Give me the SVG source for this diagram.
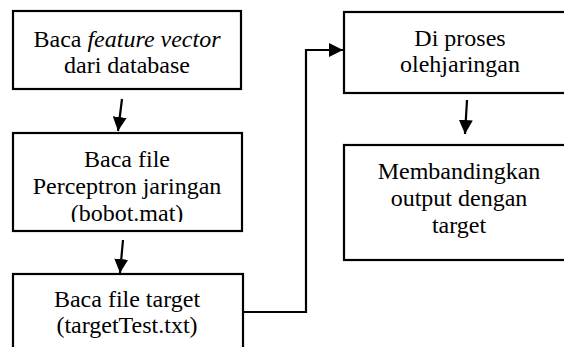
<svg xmlns="http://www.w3.org/2000/svg" width="564" height="347" viewBox="0 0 564 347">
  <style>
    .box { fill: #ffffff; stroke: #000000; stroke-width: 2.2; }
    .link { fill: none; stroke: #000000; stroke-width: 2.2; }
  </style>
  <defs>
    <marker id="arrow" markerWidth="14" markerHeight="14" viewBox="0 0 14 14" refX="14" refY="7" orient="auto" markerUnits="userSpaceOnUse">
      <path d="M0,0 L14,7 L0,14 Z" fill="#000000"/>
    </marker>
    <clipPath id="clip-perceptron">
      <rect x="14" y="134" width="227" height="88"/>
    </clipPath>
  </defs>
  <rect width="564" height="347" fill="#ffffff"/>

  <g id="connectors">
    <line class="link" x1="122" y1="99" x2="118" y2="131" marker-end="url(#arrow)"/>
    <line class="link" x1="123" y1="240" x2="120" y2="273" marker-end="url(#arrow)"/>
    <polyline class="link" points="243,312 306,312 306,50 343,50" marker-end="url(#arrow)"/>
    <line class="link" x1="467" y1="100" x2="465" y2="134" marker-end="url(#arrow)"/>
  </g>

  <g font-family="Liberation Serif, Times New Roman, serif" font-size="24" fill="#000000" text-anchor="middle">
    <g id="read-features">
      <rect class="box" x="13" y="11" width="228" height="78"/>
      <text x="127" y="47">Baca <tspan font-style="italic">feature vector</tspan></text>
      <text x="127" y="73">dari database</text>
    </g>

    <g id="read-perceptron">
      <rect class="box" x="13" y="133" width="229" height="98"/>
      <g clip-path="url(#clip-perceptron)">
        <text x="127" y="167">Baca file</text>
        <text x="127" y="194">Perceptron jaringan</text>
        <text x="127" y="221">(bobot.mat)</text>
      </g>
    </g>

    <g id="read-target">
      <rect class="box" x="13" y="274" width="230" height="90"/>
      <text x="127" y="307">Baca file target</text>
      <text x="127" y="333">(targetTest.txt)</text>
    </g>

    <g id="process-network">
      <rect class="box" x="344" y="12" width="234" height="81"/>
      <text x="460" y="46">Di proses</text>
      <text x="460" y="72">olehjaringan</text>
    </g>

    <g id="compare-output">
      <rect class="box" x="344" y="145" width="234" height="115"/>
      <text x="459" y="179">Membandingkan</text>
      <text x="459" y="206">output dengan</text>
      <text x="459" y="233">target</text>
    </g>
  </g>
</svg>
